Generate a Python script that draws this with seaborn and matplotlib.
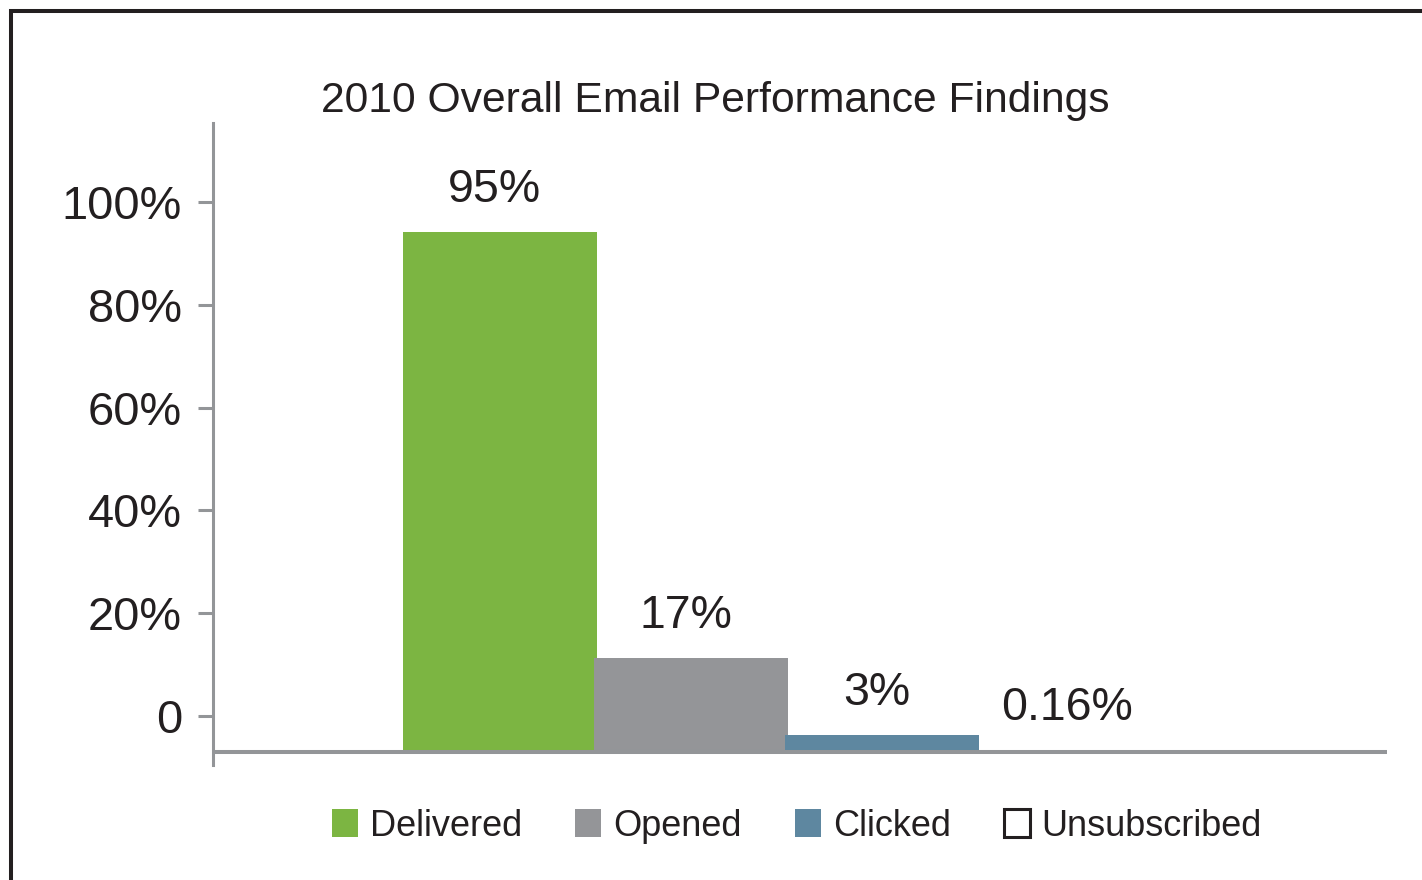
import matplotlib
matplotlib.use("Agg")
import matplotlib.pyplot as plt
import seaborn as sns
import pandas as pd
from matplotlib.patches import Patch, Rectangle

# ---- data ----
title = "2010 Overall Email Performance Findings"
categories = ["Delivered", "Opened", "Clicked", "Unsubscribed"]
values = [95, 17, 3, 0.16]
value_labels = ["95%", "17%", "3%", "0.16%"]
tick_values = [0, 20, 40, 60, 80, 100]
tick_labels = ["0", "20%", "40%", "60%", "80%", "100%"]
colors = ["#7CB542", "#949598", "#5E87A0", "#FFFFFF"]

TEXT = "#231F20"
GREY = "#939598"

sns.set_theme(style="white")
plt.rcParams["font.family"] = ["Liberation Sans", "DejaVu Sans"]

fig = plt.figure(figsize=(14.22, 8.80), dpi=100)
ax = fig.add_axes([213 / 1422, (880 - 765) / 880, (1387 - 213) / 1422, (765 - 123) / 880])

df = pd.DataFrame({"cat": categories, "val": values})
sns.barplot(data=df, x="cat", y="val", hue="cat", palette=colors, width=1.016,
            dodge=False, legend=False, saturation=1, ax=ax, zorder=2,
            linewidth=0, edgecolor="none")

ax.set_xlim(-1.503, 4.644)
ax.set_ylim(-2.56, 114.95)
ax.axhline(-0.1, color=GREY, lw=2.9, zorder=3)

ax.set_xticks([])
ax.set_xlabel("")
ax.set_ylabel("")
for s in ["top", "right", "bottom"]:
    ax.spines[s].set_visible(False)
ax.spines["left"].set_color(GREY)
ax.spines["left"].set_linewidth(2.2)

# tick positions offset as in the original graphic
ax.set_yticks([6.4 + 0.941 * v for v in tick_values])
ax.set_yticklabels(tick_labels)
ax.tick_params(axis="y", length=10.8, width=2.2, color=GREY, pad=11.5,
               labelsize=33.8, labelcolor=TEXT, left=True)

for i, (v, lab) in enumerate(zip(values, value_labels)):
    ax.annotate(lab, (i, v), xytext=(-4, 21.6), textcoords="offset points",
                ha="center", va="baseline", fontsize=33.5, color=TEXT)

fig.text(715 / 1422, (880 - 112) / 880, title, ha="center", va="baseline",
         fontsize=30.7, color=TEXT)

handles = []
for c in colors:
    if c.upper() == "#FFFFFF":
        handles.append(Patch(facecolor="white", edgecolor=TEXT, linewidth=2.2))
    else:
        handles.append(Patch(facecolor=c, edgecolor="none"))
fig.legend(handles, categories, loc="center", bbox_to_anchor=(797 / 1422, 54 / 880),
           ncol=4, frameon=False, fontsize=26, handlelength=0.72, handleheight=0.78,
           handletextpad=0.33, columnspacing=1.47, labelcolor=TEXT)

# outer frame (cropped box)
fig.add_artist(Rectangle((11 / 1422, -0.2), 1.5, (880 - 11) / 880 + 0.2,
                         transform=fig.transFigure, fill=False, edgecolor=TEXT,
                         linewidth=2.9, clip_on=False))

fig.savefig("out.png", dpi=100)
